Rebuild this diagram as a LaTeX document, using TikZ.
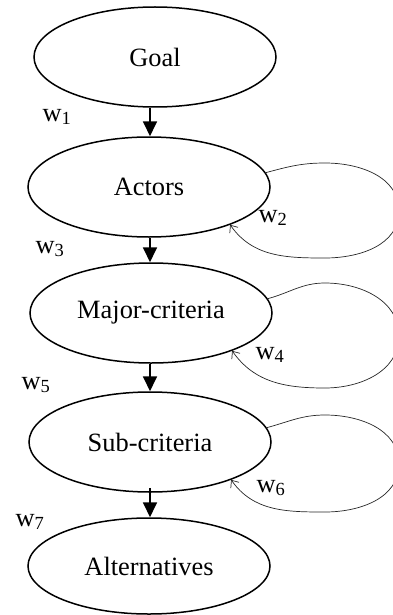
\documentclass[tikz,border=0pt]{standalone}
\usepackage{fontspec}
\setmainfont{Liberation Serif}
\usetikzlibrary{shapes.geometric,arrows.meta}
\begin{document}
\begin{tikzpicture}[x=1pt,y=-1pt,
 ell/.style={draw,ellipse,line width=1.5pt,minimum width=242pt,minimum height=100pt,inner sep=0pt,font=\fontsize{26.4}{30}\selectfont},
 wlab/.style={font=\fontsize{26.4}{30}\selectfont,inner sep=0pt},
 flow/.style={line width=1.8pt,-{Triangle[length=15pt,width=14pt]}},
 selfloop/.style={line width=0.7pt,black!85,-{Straight Barb[length=6pt,width=10pt]}}]
\useasboundingbox (0,0) rectangle (393,615);
\node[ell] (goal) at (155,57) {Goal};
\node[ell] (actors) at (149,187) {Actors};
\node[ell] (major) at (151,313) {Major-criteria};
\node[ell] (sub) at (150,442) {Sub-criteria};
\node[ell,minimum height=96pt] (alt) at (149,566) {Alternatives};
\coordinate (axis) at (150,0);
\draw[flow] (goal.south -| axis) -- (actors.north -| axis);
\draw[flow] (actors.south -| axis) -- (major.north -| axis);
\draw[flow] (major.south -| axis) -- (sub.north -| axis);
\draw[flow] ([yshift=5pt]sub.south -| axis) -- (alt.north -| axis);
\draw[selfloop] (actors.7) to[out=15,in=180] (325,163) to[out=0,in=90] (399,211) to[out=-90,in=0] (325,258) to[out=180,in=-55] (actors.-25);
\draw[selfloop] (major.7) to[out=15,in=180] (325,283) to[out=0,in=90] (399,336) to[out=-90,in=0] (325,388) to[out=180,in=-55] (major.-25);
\draw[selfloop] (sub.7) to[out=15,in=180] (325,415) to[out=0,in=90] (399,464) to[out=-90,in=0] (325,512) to[out=180,in=-55] (sub.-25);
\node[wlab] (w1) at (57,117) {w\textsubscript{1}};
\node[wlab] (w2) at (273,218) {w\textsubscript{2}};
\node[wlab] (w3) at (50,249) {w\textsubscript{3}};
\node[wlab] (w4) at (270,355) {w\textsubscript{4}};
\node[wlab] (w5) at (36,385) {w\textsubscript{5}};
\node[wlab] (w6) at (271,488) {w\textsubscript{6}};
\node[wlab] (w7) at (30,522) {w\textsubscript{7}};
\end{tikzpicture}
\end{document}
